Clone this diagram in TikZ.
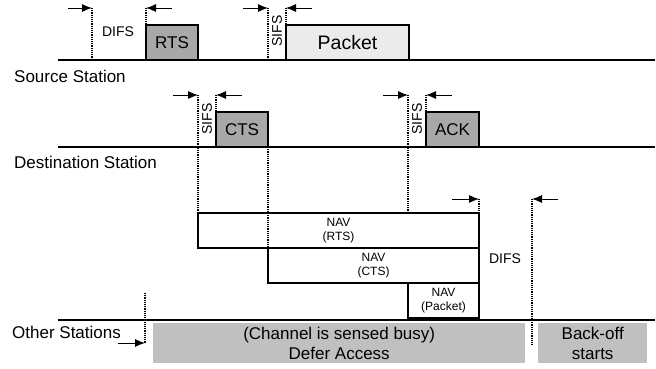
\documentclass[tikz,border=0pt]{standalone}
\usepackage{fontspec}
\setmainfont{Liberation Sans}
\usetikzlibrary{arrows.meta, positioning}
\definecolor{ctrlgray}{HTML}{A8A8A8}
\definecolor{datagray}{HTML}{EBEBEB}
\definecolor{busygray}{HTML}{C0C0C0}

\begin{document}
\begin{tikzpicture}[x=1pt, y=-1pt,
  timeline/.style={line width=2.2pt},
  frame/.style={draw, line width=1.8pt, inner sep=0pt, outer sep=0pt, anchor=south west, minimum height=35pt, font=\fontsize{17}{20}\selectfont},
  nav/.style={frame, fill=white, align=center, font=\fontsize{12}{14.5}\selectfont},
  busy/.style={fill=busygray, inner sep=0pt, anchor=north west, minimum height=40pt, align=center, font=\fontsize{17}{20}\selectfont},
  marker/.style={line width=1.3pt, dash pattern=on 1.2pt off 1pt},
  gap/.style={-{Latex[length=10pt,width=8pt]}, line width=0.9pt},
  lbl/.style={inner sep=0pt, font=\fontsize{14}{16}\selectfont},
  station/.style={inner sep=0pt, anchor=west, font=\fontsize{17}{20}\selectfont}]
  \useasboundingbox (0,0) rectangle (656,368);

  % time lines
  \coordinate (src0) at (58,60);  \coordinate (src1) at (655,60);
  \coordinate (dst0) at (58,147); \coordinate (dst1) at (655,147);
  \coordinate (oth0) at (58,320); \coordinate (oth1) at (655,320);
  \draw[timeline] (src0) -- (src1);
  \draw[timeline] (dst0) -- (dst1);
  \draw[timeline] (oth0) -- (oth1);
  \node[station] (src) at (14,76) {Source Station};
  \node[station] (dst) at (14,162) {Destination Station};
  \node[station] (oth) at (12,332) {Other Stations};

  % frames
  \node[frame, fill=ctrlgray, minimum width=52pt] (rts) at (146,60) {RTS};
  \node[frame, fill=datagray, minimum width=123pt, font=\fontsize{19.5}{22}\selectfont] (pkt) at (286,60) {Packet};
  \node[frame, fill=ctrlgray, minimum width=52pt] (cts) at (216,147) {CTS};
  \node[frame, fill=ctrlgray, minimum width=53pt] (ack) at (426,147) {ACK};
  \node[nav, minimum width=281pt] (navrts) at (198,248) {NAV\\(RTS)};
  \node[nav, minimum width=211pt] (navcts) at (268,283) {NAV\\(CTS)};
  \node[nav, minimum width=71pt] (navpkt) at (408,318) {NAV\\(Packet)};
  \node[busy, minimum width=372pt] (defer) at (153,323) {(Channel is sensed busy)\\Defer Access};
  \node[busy, minimum width=109pt] (backoff) at (538,323) {Back-off\\starts};

  % interframe spaces
  \coordinate (m1) at (92,8);
  \coordinate (m2) at (rts.north west |- m1);
  \coordinate (m3) at (cts.south east |- m1);
  \coordinate (m4) at (pkt.north west |- m1);
  \draw[marker] (m1) -- (m1 |- src0);
  \draw[marker] (m2) -- (rts.north west);
  \draw[marker] (m3) -- (m3 |- src0);
  \draw[marker] (m4) -- (pkt.north west);
  \draw[gap] ([xshift=-24pt]m1) -- (m1);
  \draw[gap] ([xshift=26pt]m2) -- (m2);
  \draw[gap] ([xshift=-25pt]m3) -- (m3);
  \draw[gap] ([xshift=26pt]m4) -- (m4);
  \node[lbl] (difs1) at (118,32) {DIFS};
  \node[lbl, rotate=90] (sifs1) at (277,31) {SIFS};

  \coordinate (m5) at (navrts.north west |- 0,95);
  \coordinate (m6) at (cts.north west |- m5);
  \coordinate (m8) at (408,95);
  \coordinate (m9) at (ack.north west |- m5);
  \draw[marker] (m5) -- (navrts.north west);
  \draw[marker] (m6) -- (cts.north west);
  \draw[marker] (cts.south east) -- (navcts.north west);
  \draw[marker] (m8) -- (m8 |- navrts.north);
  \draw[marker] (m9) -- (ack.north west);
  \draw[gap] ([xshift=-25pt]m5) -- (m5);
  \draw[gap] ([xshift=26pt]m6) -- (m6);
  \draw[gap] ([xshift=-25pt]m8) -- (m8);
  \draw[gap] ([xshift=26pt]m9) -- (m9);
  \node[lbl, rotate=90] (sifs2) at (207,119) {SIFS};
  \node[lbl, rotate=90] (sifs3) at (417,119) {SIFS};

  \coordinate (m10) at (navrts.north east |- 0,199);
  \coordinate (m11) at (532,199);
  \coordinate (m11e) at (532,345);
  \draw[marker] (m10) -- (navrts.north east);
  \draw[marker] (m11) -- (m11e);
  \draw[gap] ([xshift=-27pt]m10) -- (m10);
  \draw[gap] ([xshift=26pt]m11) -- (m11);
  \node[lbl] (difs2) at (505,259) {DIFS};

  \coordinate (m12) at (145,293);
  \coordinate (m12e) at (145,343);
  \draw[marker] (m12) -- (m12e);
  \draw[gap] ([xshift=-27pt]m12e) -- (m12e);
\end{tikzpicture}
\end{document}
